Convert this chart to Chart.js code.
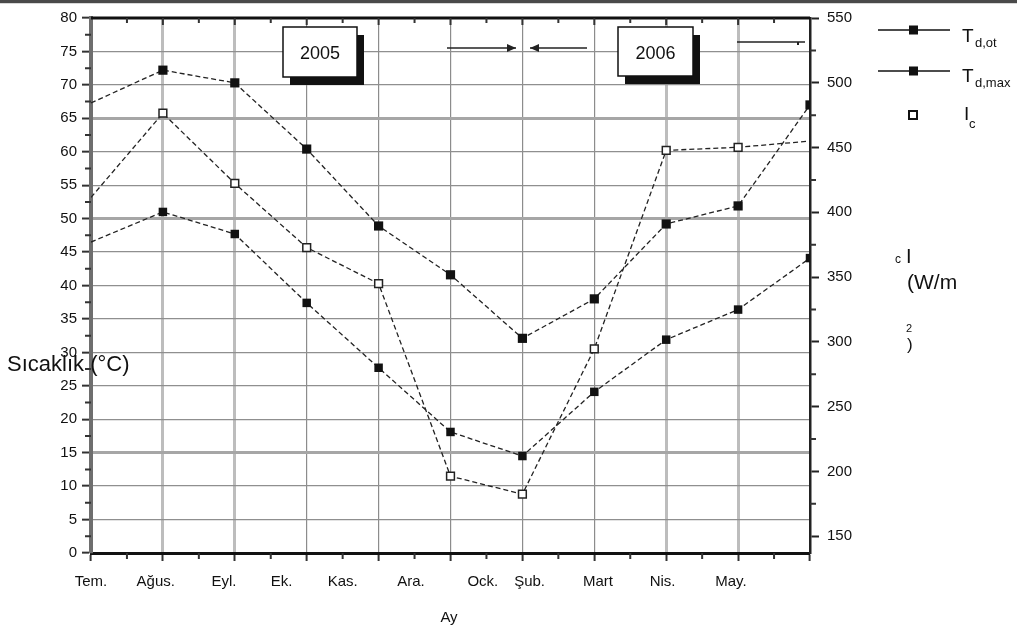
<!DOCTYPE html>
<html>
<head>
<meta charset="utf-8">
<script src="https://cdn.jsdelivr.net/npm/chart.js@4.4.1/dist/chart.umd.min.js"></script>
<style>
  html, body { margin: 0; padding: 0; background: #fff; }
  #wrap { width: 1017px; height: 628px; }
</style>
</head>
<body>
<div id="wrap"><canvas id="chart" width="1017" height="628"></canvas></div>
<script>
// months on the x axis (labels sit where the original put them)
const monthLabels = ['Tem.', 'Ağus.', 'Eyl.', 'Ek.', 'Kas.', 'Ara.', 'Ock.', 'Şub.', 'Mart', 'Nis.', 'May.'];
const monthLabelPos = [0, 0.9, 1.85, 2.65, 3.5, 4.45, 5.45, 6.1, 7.05, 7.95, 8.9];
const pointPos = [0, 1, 2, 3, 4, 5, 6, 7, 8, 9, 10];

// series (°C on the left, W/m² on the right)
const tdOt  = [46.5, 51.0, 47.7, 37.4, 27.7, 18.1, 14.5, 24.1, 31.9, 36.4, 44.1];
const tdMax = [67.3, 72.2, 70.3, 60.4, 48.9, 41.6, 32.1, 38.0, 49.2, 51.9, 67.0];
const ic    = [411.5, 476.5, 422.3, 372.8, 344.9, 196.3, 182.4, 294.6, 447.8, 450.2, 455.0];

const leftTicks  = [0, 5, 10, 15, 20, 25, 30, 35, 40, 45, 50, 55, 60, 65, 70, 75, 80];
const rightTicks = [150, 200, 250, 300, 350, 400, 450, 500, 550];

const FONT = '"Liberation Sans", Arial, sans-serif';
const toXY = arr => arr.map((v, i) => ({ x: pointPos[i], y: v }));

// minor ticks, frame, legend, titles and the 2005/2006 notes
const decorations = {
  id: 'decorations',
  afterDatasetsDraw(chart) {
    const { ctx, chartArea: a, scales } = chart;
    ctx.save();
    // top bar of the picture
    ctx.fillStyle = '#4a4a4a';
    ctx.fillRect(0, 0, chart.width, 3);
    ctx.fillStyle = '#d8d8d8';
    ctx.fillRect(0, 3, chart.width, 1);

    // top frame
    ctx.strokeStyle = '#111';
    ctx.lineWidth = 3;
    ctx.beginPath();
    ctx.moveTo(a.left, a.top);
    ctx.lineTo(a.right, a.top);
    ctx.stroke();

    // minor ticks
    ctx.lineWidth = 2;
    ctx.strokeStyle = '#333';
    ctx.beginPath();
    for (let v = 2.5; v < 80; v += 5) {
      const y = scales.y.getPixelForValue(v);
      ctx.moveTo(a.left - 6, y); ctx.lineTo(a.left, y);
    }
    for (let v = 175; v < 550; v += 50) {
      const y = scales.y1.getPixelForValue(v);
      ctx.moveTo(a.right, y); ctx.lineTo(a.right + 6, y);
    }
    for (let v = 0.5; v < 10; v += 1) {
      const x = scales.x.getPixelForValue(v);
      ctx.moveTo(x, a.bottom); ctx.lineTo(x, a.bottom + 6);
      ctx.moveTo(x, a.top); ctx.lineTo(x, a.top + 5);
    }
    for (let v = 1; v < 10; v += 1) {
      const x = scales.x.getPixelForValue(v);
      ctx.moveTo(x, a.top); ctx.lineTo(x, a.top + 7);
    }
    ctx.stroke();

    // axis titles
    ctx.fillStyle = '#111';
    ctx.textBaseline = 'alphabetic';
    ctx.textAlign = 'left';
    ctx.font = '22px ' + FONT;
    ctx.fillText('Sıcaklık (°C)', 7, 371);
    ctx.font = '15px ' + FONT;
    ctx.textAlign = 'center';
    ctx.fillText('Ay', 449, 622);

    ctx.textAlign = 'left';
    ctx.font = '12px ' + FONT;
    ctx.fillText('c', 895, 263);
    ctx.font = '20px ' + FONT;
    ctx.fillText('I', 906, 263);
    ctx.font = '21px ' + FONT;
    ctx.fillText('(W/m', 907, 289);
    ctx.font = '11px ' + FONT;
    ctx.fillText('2', 906, 332);
    ctx.font = '17px ' + FONT;
    ctx.fillText(')', 907, 350);

    // legend
    ctx.strokeStyle = '#111';
    ctx.lineWidth = 1.5;
    [30, 71].forEach(y => {
      ctx.beginPath();
      ctx.moveTo(878, y); ctx.lineTo(950, y);
      ctx.stroke();
      ctx.fillStyle = '#111';
      ctx.fillRect(909, y - 4.5, 9, 9);
    });
    ctx.fillStyle = '#fff';
    ctx.fillRect(909, 111, 8, 8);
    ctx.lineWidth = 2;
    ctx.strokeRect(909, 111, 8, 8);

    ctx.fillStyle = '#111';
    ctx.font = '19px ' + FONT;
    ctx.fillText('T', 962, 42);
    ctx.fillText('T', 962, 82);
    ctx.fillText('I', 964, 120);
    ctx.font = '13px ' + FONT;
    ctx.fillText('d,ot', 975, 47);
    ctx.fillText('d,max', 975, 87);
    ctx.fillText('c', 969, 128);

    // year boxes
    const box = (x, y, w, h, text) => {
      ctx.fillStyle = '#111';
      ctx.fillRect(x + 7, y + 8, w, h);
      ctx.fillStyle = '#fff';
      ctx.fillRect(x, y, w, h);
      ctx.strokeStyle = '#111';
      ctx.lineWidth = 1.5;
      ctx.strokeRect(x, y, w, h);
      ctx.fillStyle = '#111';
      ctx.font = '18px ' + FONT;
      ctx.textAlign = 'center';
      ctx.fillText(text, x + w / 2, y + h / 2 + 7);
      ctx.textAlign = 'left';
    };
    box(283, 27, 74, 50, '2005');
    box(618, 27, 75, 49, '2006');

    // arrows
    const arrow = (x1, x2, y, head) => {
      ctx.strokeStyle = '#222';
      ctx.fillStyle = '#222';
      ctx.lineWidth = 1.5;
      ctx.beginPath();
      ctx.moveTo(x1, y); ctx.lineTo(x2, y);
      ctx.stroke();
      if (head) {
        const d = x2 > x1 ? -1 : 1;
        ctx.beginPath();
        ctx.moveTo(x2, y);
        ctx.lineTo(x2 + d * 9, y - 4);
        ctx.lineTo(x2 + d * 9, y + 4);
        ctx.closePath();
        ctx.fill();
      }
    };
    arrow(447, 516, 48, true);
    arrow(587, 530, 48, true);
    arrow(737, 805, 42, false);
    ctx.fillRect(797, 42, 2, 3);
    ctx.restore();
  }
};

const lineStyle = {
  borderColor: '#222',
  borderWidth: 1.3,
  borderDash: [5, 3],
  tension: 0,
  fill: false
};

new Chart(document.getElementById('chart'), {
  type: 'line',
  data: {
    datasets: [
      {
        label: 'T d,ot',
        data: toXY(tdOt),
        yAxisID: 'y',
        ...lineStyle,
        pointStyle: 'rect',
        pointRadius: ctx => ctx.dataIndex === 0 ? 0 : 6,
        pointBackgroundColor: '#111',
        pointBorderColor: '#111',
        pointBorderWidth: 0
      },
      {
        label: 'T d,max',
        data: toXY(tdMax),
        yAxisID: 'y',
        ...lineStyle,
        pointStyle: 'rect',
        pointRadius: ctx => ctx.dataIndex === 0 ? 0 : 6.5,
        pointBackgroundColor: '#111',
        pointBorderColor: '#111',
        pointBorderWidth: 0
      },
      {
        label: 'I c',
        data: toXY(ic),
        yAxisID: 'y1',
        ...lineStyle,
        pointStyle: 'rect',
        pointRadius: ctx => (ctx.dataIndex === 0 || ctx.dataIndex === 10) ? 0 : 5.5,
        pointBackgroundColor: '#fff',
        pointBorderColor: '#222',
        pointBorderWidth: 1.5
      }
    ]
  },
  options: {
    responsive: false,
    animation: false,
    layout: { padding: { top: 18, left: 0, right: 0, bottom: 0 } },
    plugins: {
      legend: { display: false },
      tooltip: { enabled: false }
    },
    scales: {
      x: {
        type: 'linear',
        position: 'bottom',
        min: 0,
        max: 10,
        afterBuildTicks: axis => { axis.ticks = pointPos.map(v => ({ value: v })); },
        afterFit: axis => { axis.height = 12; },
        ticks: { display: false },
        border: { color: '#111', width: 3 },
        grid: {
          drawTicks: true,
          tickLength: 8,
          color: ctx => [1, 2, 8, 9].includes(ctx.tick.value) ? '#bdbdbd' : '#8c8c8c',
          lineWidth: ctx => [1, 2, 8, 9].includes(ctx.tick.value) ? 3 : 1.2,
          tickColor: '#333',
          tickWidth: 2
        }
      },
      xLab: {
        type: 'linear',
        position: 'bottom',
        min: 0,
        max: 10,
        afterBuildTicks: axis => { axis.ticks = monthLabelPos.map(v => ({ value: v })); },
        afterFit: axis => { axis.height = 63; },
        border: { display: false },
        grid: { display: false, drawTicks: false },
        ticks: {
          autoSkip: false,
          maxRotation: 0,
          padding: 8,
          color: '#111',
          font: { family: FONT, size: 15 },
          callback: (v, i) => monthLabels[i]
        }
      },
      y: {
        type: 'linear',
        position: 'left',
        min: 0,
        max: 80,
        afterBuildTicks: axis => { axis.ticks = leftTicks.map(v => ({ value: v })); },
        afterFit: axis => { axis.width = 91; },
        border: { color: '#6e6e6e', width: 4 },
        ticks: {
          padding: 5,
          color: '#111',
          font: { family: FONT, size: 15 }
        },
        grid: {
          drawTicks: true,
          tickLength: 9,
          tickColor: '#333',
          tickWidth: 2,
          color: ctx => {
            const v = ctx.tick.value;
            if (v === 0 || v === 80) return 'rgba(0,0,0,0)';
            if (v === 15 || v === 50 || v === 65) return '#a6a6a6';
            return '#8f8f8f';
          },
          lineWidth: ctx => {
            const v = ctx.tick.value;
            return (v === 15 || v === 50 || v === 65) ? 3 : 1.3;
          },
          borderDash: ctx => ctx.tick && ctx.tick.value === 45 ? [74, 65] : [],
          borderDashOffset: ctx => ctx.tick && ctx.tick.value === 45 ? 35 : 0
        }
      },
      y1: {
        type: 'linear',
        position: 'right',
        min: 137,
        max: 550,
        afterBuildTicks: axis => { axis.ticks = rightTicks.map(v => ({ value: v })); },
        afterFit: axis => { axis.width = 207; },
        border: { color: '#222', width: 2.5 },
        ticks: {
          padding: 8,
          color: '#111',
          font: { family: FONT, size: 15 }
        },
        grid: {
          drawOnChartArea: false,
          drawTicks: true,
          tickLength: 9,
          tickColor: '#222',
          tickWidth: 2
        }
      }
    }
  },
  plugins: [decorations]
});
</script>
</body>
</html>
